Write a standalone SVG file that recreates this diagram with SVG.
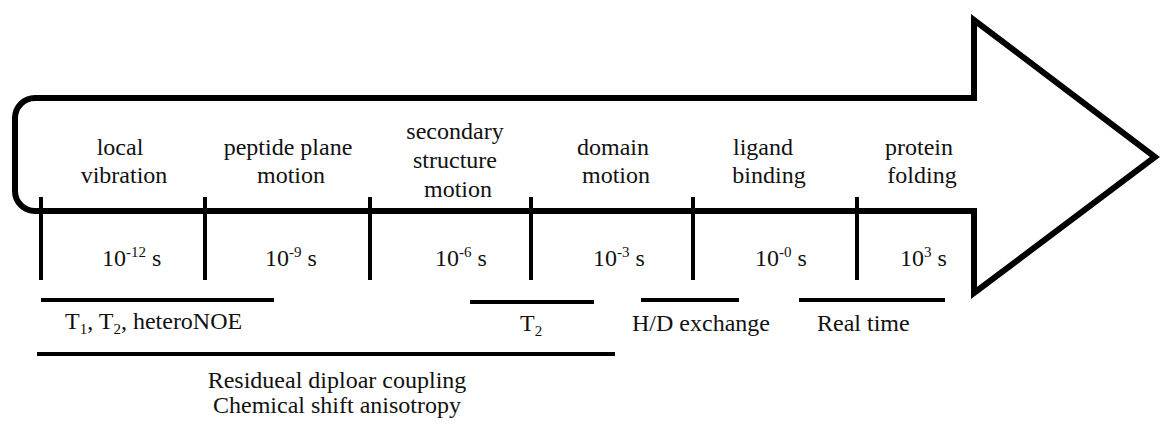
<svg xmlns="http://www.w3.org/2000/svg" width="1160" height="424" viewBox="0 0 1160 424">
<style>
text{font-family:"Liberation Serif","Times New Roman",serif;font-size:24px;fill:#111;}
.m{text-anchor:middle;}
.sup{font-size:15px;}
.sub{font-size:15px;}
.tick{stroke:#000;stroke-width:4;}
.bar{stroke:#000;stroke-width:4;}
.arrow{fill:none;stroke:#000;stroke-width:6;stroke-linejoin:miter;stroke-miterlimit:10;}
</style>
<rect width="1160" height="424" fill="#fff"/>
<g id="arrow">
<path class="arrow" d="M35,98 L974,98 L974,20 L1155,157 L974,293 L974,211 L35,211 A20,20 0 0 1 15,191 L15,118 A20,20 0 0 1 35,98 Z"/>
</g>
<g id="ticks">
<line class="tick" x1="41" y1="197" x2="41" y2="280"/>
<line class="tick" x1="205" y1="197" x2="205" y2="280"/>
<line class="tick" x1="370" y1="197" x2="370" y2="280"/>
<line class="tick" x1="531" y1="197" x2="531" y2="280"/>
<line class="tick" x1="693" y1="197" x2="693" y2="280"/>
<line class="tick" x1="857" y1="197" x2="857" y2="280"/>
</g>
<g id="local-vibration">
<text class="m" x="120" y="155">local</text>
<text class="m" x="124" y="183">vibration</text>
</g>
<g id="peptide-plane-motion">
<text class="m" x="288" y="155">peptide plane</text>
<text class="m" x="291" y="183">motion</text>
</g>
<g id="secondary-structure-motion">
<text class="m" x="455" y="139">secondary</text>
<text class="m" x="455" y="168">structure</text>
<text class="m" x="458" y="197">motion</text>
</g>
<g id="domain-motion">
<text class="m" x="613" y="155">domain</text>
<text class="m" x="616" y="183">motion</text>
</g>
<g id="ligand-binding">
<text class="m" x="763" y="155">ligand</text>
<text class="m" x="769" y="183">binding</text>
</g>
<g id="protein-folding">
<text class="m" x="919" y="155">protein</text>
<text class="m" x="922" y="183">folding</text>
</g>
<g id="timescales">
<text x="102" y="266">10<tspan class="sup" dy="-9">-12</tspan><tspan dy="9"> s</tspan></text>
<text x="265" y="266">10<tspan class="sup" dy="-9">-9</tspan><tspan dy="9"> s</tspan></text>
<text x="435" y="266">10<tspan class="sup" dy="-9">-6</tspan><tspan dy="9"> s</tspan></text>
<text x="593" y="266">10<tspan class="sup" dy="-9">-3</tspan><tspan dy="9"> s</tspan></text>
<text x="755" y="266">10<tspan class="sup" dy="-9">-0</tspan><tspan dy="9"> s</tspan></text>
<text x="900" y="266">10<tspan class="sup" dy="-9">3</tspan><tspan dy="9"> s</tspan></text>
</g>
<g id="relaxation">
<line class="bar" x1="41" y1="300" x2="274" y2="300"/>
<text x="65" y="329">T<tspan class="sub" dy="5">1</tspan><tspan dy="-5">, T</tspan><tspan class="sub" dy="5">2</tspan><tspan dy="-5">, heteroNOE</tspan></text>
</g>
<g id="t2">
<line class="bar" x1="470" y1="302" x2="594" y2="302"/>
<text x="520" y="331">T<tspan class="sub" dy="5">2</tspan></text>
</g>
<g id="hd-exchange">
<line class="bar" x1="641" y1="300" x2="739" y2="300"/>
<text x="632" y="331">H/D exchange</text>
</g>
<g id="real-time">
<line class="bar" x1="799" y1="300" x2="945" y2="300"/>
<text x="817" y="331">Real time</text>
</g>
<g id="rdc-csa">
<line class="bar" x1="37" y1="354" x2="615" y2="354"/>
<text class="m" x="337" y="388">Residueal diploar coupling</text>
<text class="m" x="337" y="413">Chemical shift anisotropy</text>
</g>
</svg>
